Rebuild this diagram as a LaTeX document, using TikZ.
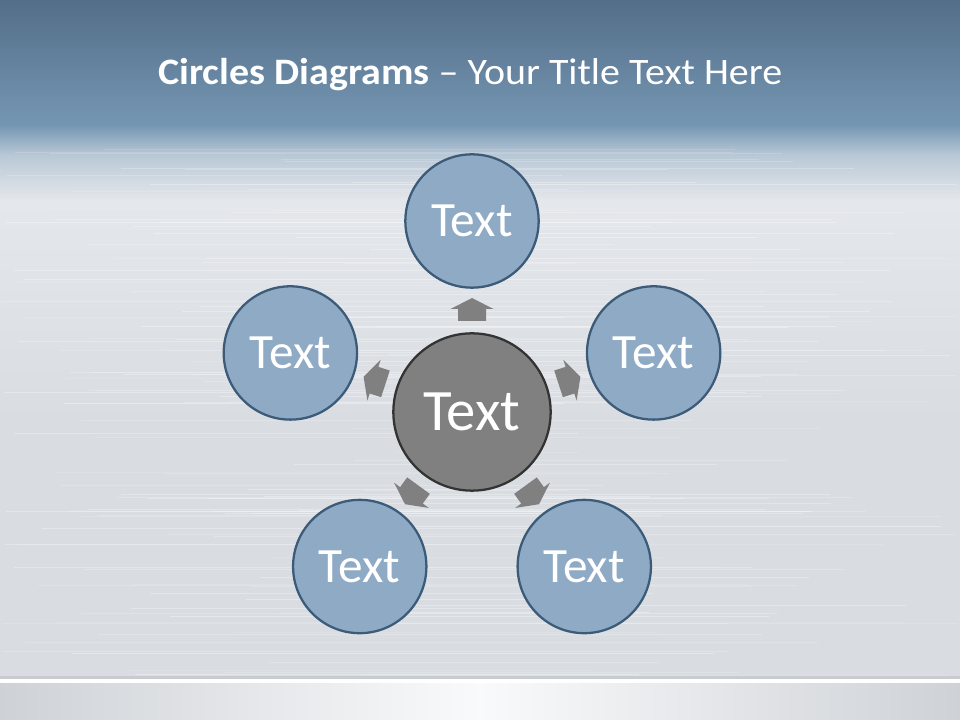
\documentclass[tikz,border=0pt]{standalone}
\usepackage{fontspec}
\setmainfont{Carlito}
\usetikzlibrary{calc}
\definecolor{topA}{HTML}{536E88}
\definecolor{topB}{HTML}{7596B3}
\definecolor{topC}{HTML}{B9C8D6}
\definecolor{bgmain}{HTML}{D9DDE2}
\definecolor{bglight}{HTML}{E4E7EB}
\definecolor{ringfill}{HTML}{8FAAC4}
\definecolor{ringline}{HTML}{3C5B79}
\definecolor{hubfill}{HTML}{808080}
\definecolor{hubline}{HTML}{333333}
\definecolor{arrowcol}{HTML}{808080}
\tikzset{
  outer/.style={circle, draw=ringline, line width=1.7pt, fill=ringfill,
    minimum size=100pt, inner sep=0pt, text=white, font=\fontsize{37}{42}\selectfont},
  hub/.style={circle, draw=hubline, line width=1.7pt, fill=hubfill,
    minimum size=118pt, inner sep=0pt, text=white, font=\fontsize{44}{50}\selectfont},
  blockarrow/.style={fill=arrowcol}
}
\begin{document}
\begin{tikzpicture}[x=0.75pt,y=0.75pt]
\useasboundingbox (0,0) rectangle (960,720);
% background
\fill[bgmain] (0,0) rectangle (960,720);
\shade[top color=bglight, bottom color=bgmain] (0,300) rectangle (960,520);
\shade[top color=topC, bottom color=bglight] (0,520) rectangle (960,565);
\shade[top color=topB, bottom color=topC] (0,565) rectangle (960,595);
\shade[top color=topA, bottom color=topB] (0,595) rectangle (960,720);
% brushed streaks
\pgfmathsetseed{11}
\foreach \i in {1,...,140}{
  \pgfmathsetmacro\yy{45+rnd*530}
  \pgfmathsetmacro\op{0.1+0.25*rnd}
  \pgfmathsetmacro\xa{rnd*400}
  \pgfmathsetmacro\xb{560+rnd*400}
  \draw[white, opacity=\op, line width=0.6] (\xa,\yy) -- (\xb,\yy);
}
% bottom strip
\shade[left color=bgmain!95!black, right color=bgmain!95!black, middle color=white!85!bgmain] (0,0) rectangle (960,37);
\fill[white] (0,37) rectangle (960,41);
\fill[bgmain!92!black] (0,41) rectangle (960,44);
% title
\node[anchor=west, text=white, inner sep=0pt, xscale=1.07, font=\fontsize{28}{32}\selectfont] (title) at (158,645)
  {\textbf{Circles Diagrams} – Your Title Text Here};
% hub and outer circles
\coordinate (c) at (472,308);
\node[hub] (hub) at (c) {Text};
\foreach \ang/\nm in {90/top, 162/left, 18/right, 234/bl, 306/br}{
  \node[outer] (\nm) at ($(c)+(\ang:191)$) {Text};
  \begin{scope}[shift={(c)}, rotate=\ang]
    \fill[blockarrow] (91,-14) -- (103,-14) -- (103,-21.5) -- (114,0) -- (103,21.5) -- (103,14) -- (91,14) -- cycle;
  \end{scope}
}
\end{tikzpicture}
\end{document}
